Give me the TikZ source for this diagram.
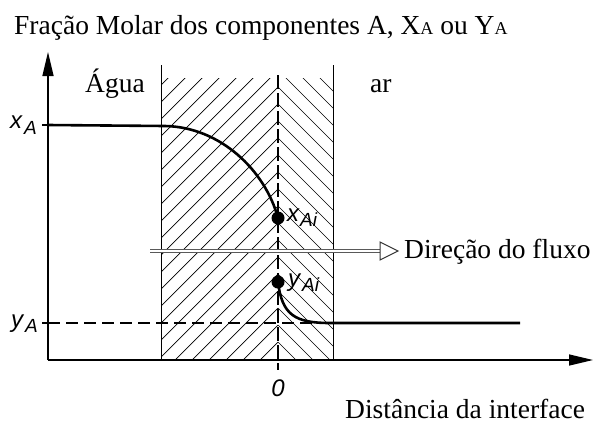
\documentclass[tikz,border=0pt]{standalone}
\usepackage{fontspec}
\setmainfont{Liberation Serif}
\newfontfamily\lsans{Liberation Sans}
\usetikzlibrary{arrows.meta}
\begin{document}
\begin{tikzpicture}[x=1pt,y=-1pt,
  axis/.style={line width=1.4pt,-{Triangle[length=24pt,width=11pt]}},
  hatchline/.style={line width=0.7pt},
  curve/.style={line width=2.6pt},
  lbl/.style={font=\fontsize{27.5}{30}\selectfont,inner sep=0pt,anchor=base west},
  sym/.style={font=\lsans\itshape\fontsize{24}{26}\selectfont,inner sep=0pt},
  sub/.style={font=\lsans\itshape\fontsize{19}{21}\selectfont,inner sep=0pt},
  dot/.style={circle,fill=black,inner sep=0pt,minimum size=13pt}]
\useasboundingbox (0,0) rectangle (596,437);
% hatching
\begin{scope}
\clip (161,78) rectangle (278,360);
\foreach \k in {-12,...,18}{\draw[hatchline] (278,{70+17*\k}) -- ++(-320,320);}
\end{scope}
\begin{scope}
\clip (278,78) rectangle (333,360);
\foreach \k in {-12,...,18}{\draw[hatchline] (278,{70+17*\k}) -- ++(320,320);}
\end{scope}
\draw[line width=0.9pt] (161,65) -- (161,360);
\draw[line width=0.9pt] (333,65) -- (333,360);
\draw[line width=1.3pt,dash pattern=on 14pt off 4pt] (278,75) -- (278,370);
% axes
\coordinate (O) at (48,360);
\coordinate (ytop) at (48,52);
\coordinate (xend) at (593,360);
\draw[axis] (O) -- (ytop);
\draw[axis] (O) -- (xend);
% ticks
\draw[line width=1.2pt] (42,125) -- (48,125);
\draw[line width=1.2pt] (42,323) -- (48,323);
% curves
\node[dot] (xai) at (278,218) {};
\node[dot] (yai) at (278,282) {};
\draw[curve] (48,125) -- (165,126) .. controls (220,127) and (265,170) .. (xai.center);
\draw[curve] (yai.center) .. controls (282,315) and (295,323) .. (330,323) -- (520,323);
\draw[line width=1.2pt,dash pattern=on 12pt off 6pt] (48,323) -- (320,323);
% flow arrow
\coordinate (fs) at (150,251);
\coordinate (fe) at (380,251);
\draw[gray!70!black,line width=0.8pt,double=white,double distance=2pt] (fs) -- (fe);
\draw[gray!40!black,line width=1pt,fill=white] (380,242) -- (398,251) -- (380,260) -- cycle;
% labels
\node[lbl] (title) at (14,34) {Fração Molar dos componentes A, X{\fontsize{18}{20}\selectfont A} ou Y{\fontsize{18}{20}\selectfont A}};
\node[lbl] (agua) at (85,92) {Água};
\node[lbl] (ar) at (370,92) {ar};
\node[lbl] (flow) at (404,258) {Direção do fluxo};
\node[lbl] (dist) at (345,418) {Distância da interface};
\node[sym,anchor=base] (zero) at (278,396) {0};
\node[sym,anchor=base west] (xA) at (10,128) {x};
\node[sub,anchor=base west] at (24,134) {A};
\node[sym,anchor=base west] (yA) at (11,327) {y};
\node[sub,anchor=base west] at (25,332) {A};
\node[sym,anchor=base west] at (287,221) {x};
\node[sub,anchor=base west] at (300,226) {Ai};
\node[sym,anchor=base west] at (288,286) {y};
\node[sub,anchor=base west] at (302,291) {Ai};
\end{tikzpicture}
\end{document}
